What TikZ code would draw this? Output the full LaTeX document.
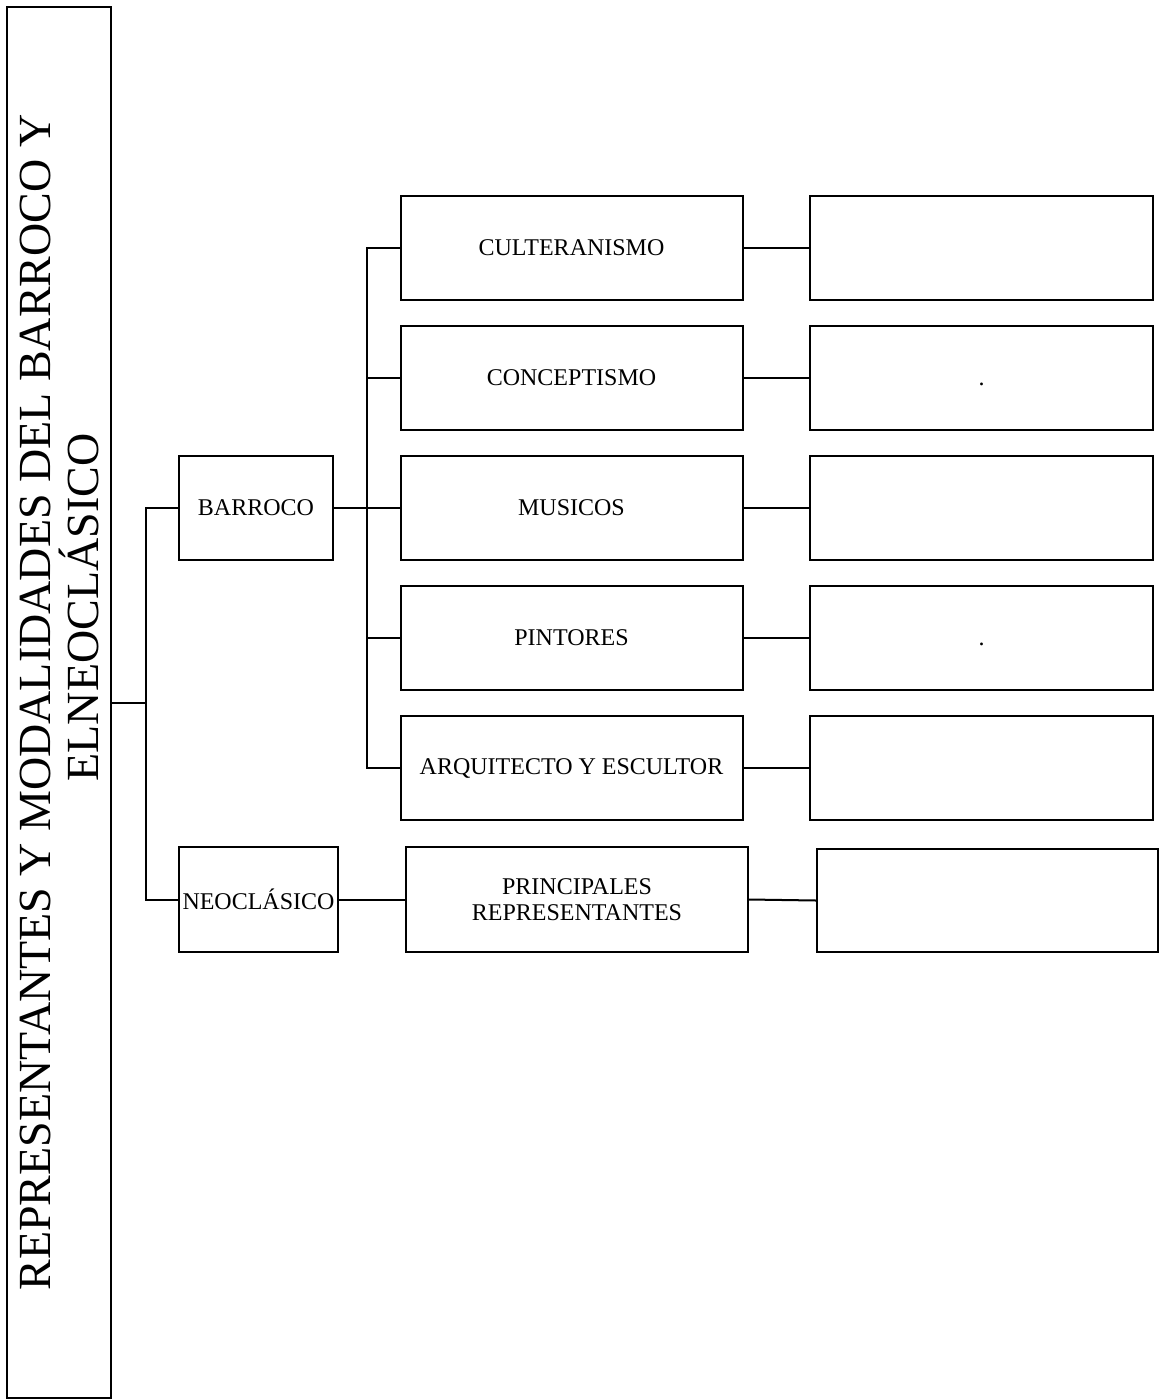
\documentclass[tikz,border=0pt]{standalone}
\usepackage{fontspec}
\setmainfont{Liberation Serif}
\begin{document}
\begin{tikzpicture}[x=1pt, y=-1pt, line width=2pt,
		caja/.style={draw, line width=2pt, inner sep=0pt, align=center, font=\fontsize{24}{26}\selectfont},
		ancha/.style={caja, minimum width=342pt, minimum height=104pt},
		enlace/.style={line width=2pt}]
		\useasboundingbox (0,0) rectangle (1161,1400);
		\node[draw, line width=2pt, rotate=90, minimum width=1391pt, minimum height=104pt, inner sep=0pt, align=center, font=\fontsize{46}{48}\selectfont] (titulo) at (59,702.5) {REPRESENTANTES Y MODALIDADES DEL BARROCO Y\\ \hspace*{190pt}ELNEOCLÁSICO};
		\node[caja, minimum width=154pt, minimum height=104pt] (barroco) at (256,508) {BARROCO};
		\node[caja, minimum width=159pt, minimum height=105pt] (neo) at (258.5,899.5) {NEOCLÁSICO};
		\node[ancha] (culter) at (571.5,248) {CULTERANISMO};
		\node[ancha] (concep) at (571.5,378) {CONCEPTISMO};
		\node[ancha] (musicos) at (571.5,508) {MUSICOS};
		\node[ancha] (pintores) at (571.5,638) {PINTORES};
		\node[ancha] (arqui) at (571.5,768) {ARQUITECTO Y ESCULTOR};
		\node[ancha, minimum width=342pt, minimum height=105pt] (princ) at (577,899.5) {PRINCIPALES\\REPRESENTANTES};
		\node[ancha, minimum width=343pt] (rculter) at (981.5,248) {};
		\node[ancha, minimum width=343pt] (rconcep) at (981.5,378) {.\vphantom{A}};
		\node[ancha, minimum width=343pt] (rmusicos) at (981.5,508) {};
		\node[ancha, minimum width=343pt] (rpintores) at (981.5,638) {.\vphantom{A}};
		\node[ancha, minimum width=343pt] (rarqui) at (981.5,768) {};
		\node[ancha, minimum width=341pt, minimum height=103pt] (rprinc) at (987.5,900.5) {};
		\coordinate (tronco) at (146,702.5);
		\coordinate (eje) at (367,508);
		\draw[enlace] (titulo.south) -- (tronco);
		\draw[enlace] (barroco.west) -| (tronco) |- (neo.west);
		\draw[enlace] (barroco.east) -- (eje);
		\draw[enlace] (eje) |- (culter.west);
		\draw[enlace] (eje) |- (concep.west);
		\draw[enlace] (eje) -- (musicos.west);
		\draw[enlace] (eje) |- (pintores.west);
		\draw[enlace] (eje) |- (arqui.west);
		\draw[enlace] (culter) -- (rculter);
		\draw[enlace] (concep) -- (rconcep);
		\draw[enlace] (musicos) -- (rmusicos);
		\draw[enlace] (pintores) -- (rpintores);
		\draw[enlace] (arqui) -- (rarqui);
		\draw[enlace] (neo) -- (princ);
		\draw[enlace] (princ.east) -- (rprinc.west);
		\end{tikzpicture}
\end{document}
